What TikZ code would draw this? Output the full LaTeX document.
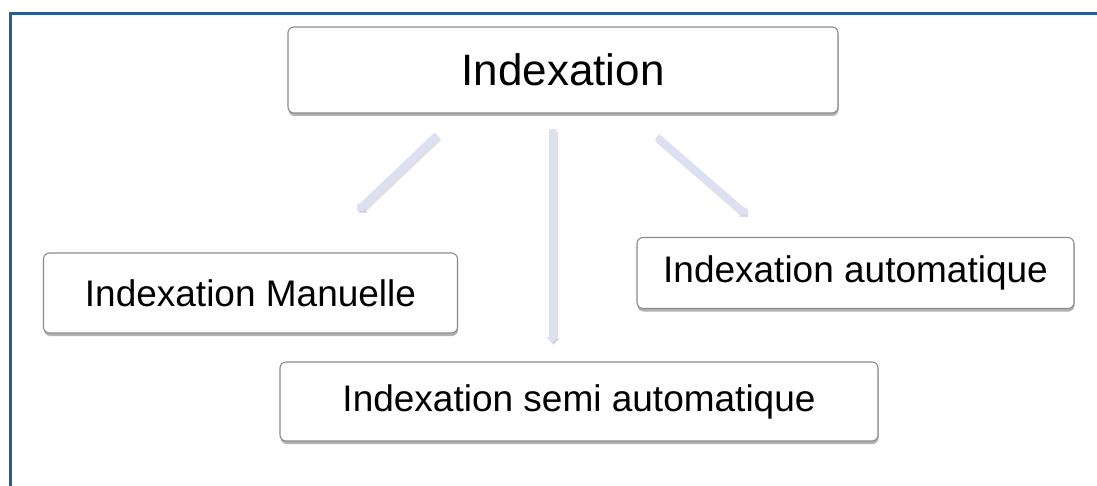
\documentclass[tikz,border=0pt]{standalone}
\usepackage{fontspec}
\setmainfont{Liberation Sans}
\usetikzlibrary{arrows.meta,shadows,calc}
\definecolor{framecol}{HTML}{2F5B93}
\definecolor{boxline}{HTML}{8C8C8C}
\definecolor{arrowcol}{HTML}{DCE0F2}
\tikzset{
  card/.style={draw=boxline, line width=1.1pt, rounded corners=6pt, fill=white,
    drop shadow={shadow xshift=0.5pt, shadow yshift=-3pt, opacity=0.3, fill=black},
    inner sep=0pt, align=center},
  link/.style={draw=arrowcol, line width=7pt,
    -{Triangle[width=11pt,length=6pt]}},
  linkshade/.style={draw=black!30, opacity=0.4, line width=8pt,
    -{Triangle[width=12pt,length=7pt]}},
}
\begin{document}
\begin{tikzpicture}[x=1pt,y=-1pt]
\useasboundingbox (0,0) rectangle (1097,486);
\fill[white] (0,0) rectangle (1097,486);
% outer frame: top and left edges only
\draw[framecol, line width=3pt] (10.5,486) -- (10.5,13.5) -- (1097,13.5);

% boxes
\node[card, minimum width=550pt, minimum height=86pt, font=\fontsize{44}{48}\selectfont]
  (top) at (563,70) {Indexation};
\node[card, minimum width=414pt, minimum height=80pt, font=\fontsize{37}{40}\selectfont]
  (man) at (250.5,293) {Indexation Manuelle};
\node[card, minimum width=437pt, minimum height=71pt, font=\fontsize{37}{40}\selectfont]
  (aut) at (855.5,273) {Indexation automatique};
\node[card, minimum width=598pt, minimum height=79pt, font=\fontsize{37}{40}\selectfont]
  (semi) at (579,401.5) {Indexation semi automatique};

% connector end points
\coordinate (l0) at (437,135);
\coordinate (l1) at (357,211);
\coordinate (m0) at (552,129);
\coordinate (m1) at (552,343);
\coordinate (r0) at (657,137);
\coordinate (r1) at (747,215);

% connector shading, then the connectors
\begin{scope}[transform canvas={xshift=1.5pt, yshift=-2pt}]
  \draw[linkshade] (l0) -- (l1);
  \draw[linkshade] (m0) -- (m1);
  \draw[linkshade] (r0) -- (r1);
\end{scope}
\draw[link] (l0) -- (l1);
\draw[link] (m0) -- (m1);
\draw[link] (r0) -- (r1);
\end{tikzpicture}
\end{document}
